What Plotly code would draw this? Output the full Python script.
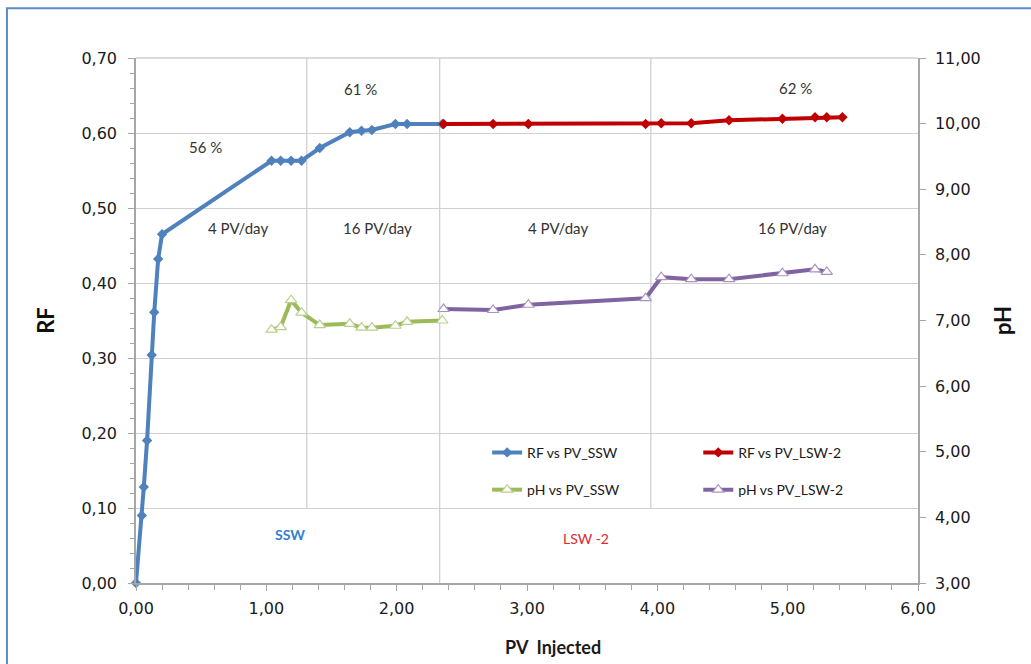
import plotly.graph_objects as go

# Pore volumes injected and recovery factor / effluent pH per brine stage
pv_ssw = [0.0, 0.045, 0.06, 0.085, 0.12, 0.14, 0.17, 0.20, 1.04, 1.11, 1.19, 1.27,
          1.41, 1.64, 1.73, 1.81, 1.99, 2.08, 2.35]
rf_ssw = [0.0, 0.09, 0.128, 0.19, 0.304, 0.361, 0.432, 0.465, 0.563, 0.563, 0.563, 0.563,
          0.58, 0.601, 0.603, 0.604, 0.612, 0.612, 0.612]

pv_lsw = [2.36, 2.74, 3.01, 3.91, 4.03, 4.26, 4.55, 4.96, 5.21, 5.30, 5.42]
rf_lsw = [0.612, 0.612, 0.612, 0.612, 0.613, 0.613, 0.617, 0.619, 0.621, 0.621, 0.621]

pv_ph_ssw = [1.04, 1.11, 1.19, 1.27, 1.41, 1.64, 1.73, 1.81, 1.99, 2.08, 2.35]
ph_ssw = [6.86, 6.90, 7.31, 7.12, 6.93, 6.95, 6.89, 6.89, 6.92, 6.98, 7.00]

pv_ph_lsw = [2.36, 2.74, 3.01, 3.91, 4.03, 4.26, 4.55, 4.96, 5.21, 5.30]
ph_lsw = [7.175, 7.16, 7.24, 7.34, 7.66, 7.63, 7.63, 7.72, 7.78, 7.74]

# Rate change / brine switch boundaries (PV)
rate_switch_ssw = 1.31
brine_switch = 2.33
rate_switch_lsw = 3.95

# Recovery at end of each stage, for the percentage labels
rf_stage1 = rf_ssw[8]
rf_stage2 = max(rf_ssw)
rf_stage3 = max(rf_lsw)

BLUE = "#4F81BD"
RED = "#C00000"
GREEN = "#9BBB59"
PURPLE = "#8064A2"
GRID = "#d0d0d0"
AXIS = "#a6a6a6"
TXT = "#1a1a1a"

tick_font = dict(family="DejaVu Sans", size=16, color=TXT)
note_font = dict(family="Lato", size=15, color="#333333")

fig = go.Figure()

fig.add_trace(go.Scatter(
    x=pv_ssw, y=rf_ssw, name="RF vs PV_SSW", mode="lines+markers",
    line=dict(color=BLUE, width=4),
    marker=dict(symbol="diamond", size=8, color=BLUE),
    cliponaxis=False, legend="legend"))
fig.add_trace(go.Scatter(
    x=pv_lsw, y=rf_lsw, name="RF vs PV_LSW-2", mode="lines+markers",
    line=dict(color=RED, width=4),
    marker=dict(symbol="diamond", size=8, color=RED),
    legend="legend2"))
fig.add_trace(go.Scatter(
    x=pv_ph_ssw, y=ph_ssw, name="pH vs PV_SSW", mode="lines+markers", yaxis="y2",
    line=dict(color=GREEN, width=4),
    marker=dict(symbol="triangle-up", size=10, color="white",
                line=dict(color="#b9cf8f", width=1.2)),
    legend="legend3"))
fig.add_trace(go.Scatter(
    x=pv_ph_lsw, y=ph_lsw, name="pH vs PV_LSW-2", mode="lines+markers", yaxis="y2",
    line=dict(color=PURPLE, width=4),
    marker=dict(symbol="triangle-up", size=10, color="white",
                line=dict(color="#a995c0", width=1.2)),
    legend="legend4"))

shapes = [
    # stage boundaries
    dict(type="line", xref="x", yref="y", x0=rate_switch_ssw, x1=rate_switch_ssw,
         y0=0.1, y1=0.7, line=dict(color=GRID, width=1.3), layer="below"),
    dict(type="line", xref="x", yref="y", x0=brine_switch, x1=brine_switch,
         y0=0.0, y1=0.7, line=dict(color=GRID, width=1.3), layer="below"),
    dict(type="line", xref="x", yref="y", x0=rate_switch_lsw, x1=rate_switch_lsw,
         y0=0.1, y1=0.7, line=dict(color=GRID, width=1.3), layer="below"),
    # top border of plot area
    dict(type="line", xref="paper", yref="paper", x0=0, x1=1, y0=1, y1=1,
         line=dict(color=GRID, width=1.3), layer="below"),
    # outer chart frame
    dict(type="rect", xref="paper", yref="paper", x0=-0.165, x1=1.16, y0=-0.2, y1=1.095,
         line=dict(color="#5B8BC9", width=2)),
]

annotations = [
    dict(x=0.53, y=0.581, text=f"{round(rf_stage1 * 100)} %"),
    dict(x=1.72, y=0.659, text=f"{round(rf_stage2 * 100)} %"),
    dict(x=5.06, y=0.660, text=f"{round(rf_stage3 * 100)} %"),
    dict(x=0.78, y=0.473, text="4 PV/day"),
    dict(x=1.85, y=0.473, text="16 PV/day"),
    dict(x=3.24, y=0.473, text="4 PV/day"),
    dict(x=5.04, y=0.473, text="16 PV/day"),
]
for a in annotations:
    a.update(xref="x", yref="y", showarrow=False, font=note_font)
annotations += [
    dict(x=1.18, y=0.065, xref="x", yref="y", text="<b>SSW</b>", showarrow=False,
         font=dict(family="Lato", size=14, color="#2F7FCB")),
    dict(x=3.45, y=0.060, xref="x", yref="y", text="LSW -2", showarrow=False,
         font=dict(family="Lato", size=14, color="#E0282E")),
    # x-axis title, set slightly right of the plot centre
    dict(x=0.533, y=-0.122, xref="paper", yref="paper", yanchor="middle",
         text="<b>PV  Injected</b>", showarrow=False,
         font=dict(family="Lato", size=18, color=TXT)),
]

legend_style = dict(bgcolor="rgba(0,0,0,0)", borderwidth=0, xanchor="left",
                    yanchor="middle", font=dict(family="Lato", size=14, color=TXT),
                    itemwidth=30)

fig.update_layout(
    width=1031, height=664,
    margin=dict(l=136, r=113, t=58, b=81),
    paper_bgcolor="white", plot_bgcolor="white",
    separators=", ",
    showlegend=True,
    legend=dict(x=0.449, y=0.248, **legend_style),
    legend2=dict(x=0.719, y=0.248, **legend_style),
    legend3=dict(x=0.449, y=0.177, **legend_style),
    legend4=dict(x=0.719, y=0.177, **legend_style),
    xaxis=dict(
        range=[0, 6], dtick=1, tickformat=".2f", tickfont=tick_font,
        showgrid=False, zeroline=False, showline=True, linecolor=AXIS, linewidth=1.5,
        ticks="outside", ticklen=6, tickcolor=AXIS, ticklabelstandoff=4,
        minor=dict(dtick=0.2, ticks="outside", ticklen=5, tickcolor=AXIS, showgrid=False),
    ),
    yaxis=dict(
        range=[0, 0.7], dtick=0.1, tickformat=".2f", tickfont=tick_font,
        showgrid=True, gridcolor=GRID, gridwidth=1.3, zeroline=False,
        showline=True, linecolor=AXIS, linewidth=1.5,
        ticks="outside", ticklen=6, tickcolor=AXIS, ticklabelstandoff=8,
        minor=dict(dtick=0.02, ticks="outside", ticklen=4, tickcolor=AXIS, showgrid=False),
        title=dict(text="<b>RF</b>", font=dict(family="Lato", size=22, color="#111"),
                   standoff=21),
    ),
    yaxis2=dict(
        range=[3, 11], dtick=1, tickformat=".2f", tickfont=tick_font,
        overlaying="y", side="right", showgrid=False, zeroline=False,
        showline=True, linecolor=AXIS, linewidth=1.5,
        ticks="outside", ticklen=6, tickcolor=AXIS, ticklabelstandoff=6,
        title=dict(text="<b>pH</b>", font=dict(family="Lato", size=22, color="#111"),
                   standoff=16),
    ),
    shapes=shapes,
    annotations=annotations,
)

fig.write_html("out.html")
